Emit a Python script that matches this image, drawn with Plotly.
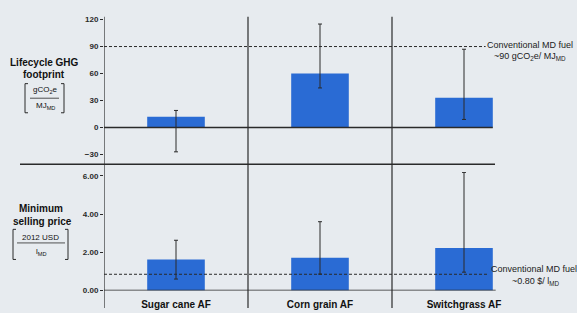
import plotly.graph_objects as go

# ---- data ----
categories = ["Sugar cane AF", "Corn grain AF", "Switchgrass AF"]
ghg = [12, 60, 33]              # gCO2e / MJ_MD
ghg_hi = [19, 115, 87]
ghg_lo = [-27, 44, 9]
msp = [1.62, 1.72, 2.23]        # 2012 USD / l_MD
msp_hi = [2.63, 3.6, 6.18]
msp_lo = [0.6, 0.86, 0.96]
conv_ghg = 90
conv_price = 0.85
ghg_ticks = [120, 90, 60, 30, 0, -30]
msp_ticks = [0, 2, 4, 6]

W, H = 577, 313
L, R = 104, 41
PW = W - L - R

def px(X):
    return (X - L) / PW

def py(Y):
    return (H - Y) / H

bar_color = "#2a6bd4"
ink = "#2a2a2a"
font = "Arial"

fig = go.Figure()
fig.add_trace(go.Bar(
    x=categories, y=ghg, xaxis="x2", yaxis="y", width=0.4,
    marker=dict(color=bar_color, line=dict(width=0)),
    error_y=dict(type="data", symmetric=False,
                 array=[h - v for h, v in zip(ghg_hi, ghg)],
                 arrayminus=[v - l for l, v in zip(ghg_lo, ghg)],
                 color=ink, thickness=1, width=2),
    showlegend=False))
fig.add_trace(go.Bar(
    x=categories, y=msp, xaxis="x", yaxis="y2", width=0.4,
    marker=dict(color=bar_color, line=dict(width=0)),
    error_y=dict(type="data", symmetric=False,
                 array=[h - v for h, v in zip(msp_hi, msp)],
                 arrayminus=[v - l for l, v in zip(msp_lo, msp)],
                 color=ink, thickness=1, width=2),
    showlegend=False))

tickfont = dict(family=font, size=8, color=ink, weight="bold")
fig.update_layout(
    width=W, height=H,
    margin=dict(l=L, r=R, t=0, b=0),
    paper_bgcolor="#e7ebef", plot_bgcolor="rgba(0,0,0,0)",
    bargap=0.6,
    xaxis=dict(domain=[0, 1], range=[-0.5, 2.5], anchor="y2",
               showgrid=False, zeroline=False, showline=False, ticks="",
               ticklabelstandoff=6,
               tickfont=dict(family=font, size=10, color="#111", weight="bold")),
    xaxis2=dict(domain=[0, 1], range=[-0.5, 2.5], anchor="y", matches="x",
                showgrid=False, zeroline=False, showline=False, showticklabels=False),
    yaxis=dict(domain=[py(155), py(16)], range=[-30, 120], tickvals=ghg_ticks,
               showgrid=False, zeroline=False, showline=False,
               ticks="outside", ticklen=3, tickcolor=ink, tickfont=tickfont),
    yaxis2=dict(domain=[py(295), py(173)], range=[0, 6.2], tickvals=msp_ticks,
                tickformat=".2f",
                showgrid=False, zeroline=False, showline=False,
                ticks="outside", ticklen=3, tickcolor=ink, tickfont=tickfont),
)

shapes = []
# full-height vertical dividers
for xv in [-0.5, 0.5, 1.5]:
    shapes.append(dict(type="line", xref="x", yref="paper", x0=xv, x1=xv,
                       y0=0, y1=py(13), line=dict(color=ink, width=1.2)))
# top panel zero line
shapes.append(dict(type="line", xref="x", yref="y", x0=-0.5, x1=2.2, y0=0, y1=0,
                   line=dict(color=ink, width=1.5)))
# separator between panels
shapes.append(dict(type="line", xref="paper", yref="paper", x0=px(20), x1=px(495),
                   y0=py(165), y1=py(165), line=dict(color=ink, width=1.3)))
# bottom axis line
shapes.append(dict(type="line", xref="x", yref="y2", x0=-0.5, x1=2.22, y0=0, y1=0,
                   line=dict(color=ink, width=1.5)))
# conventional fuel reference lines
shapes.append(dict(type="line", xref="x", yref="y", x0=-0.5, x1=2.15,
                   y0=conv_ghg, y1=conv_ghg, line=dict(color=ink, width=1, dash="3px,2px")))
shapes.append(dict(type="line", xref="x", yref="y2", x0=-0.5, x1=2.16,
                   y0=conv_price, y1=conv_price, line=dict(color=ink, width=1, dash="3px,2px")))

def bracket(x0, x1, y0, y1):
    a, b = px(x0), px(x1)
    t, bt = py(y0), py(y1)
    d = 3 / PW
    shapes.append(dict(type="path", xref="paper", yref="paper",
                       path=f"M {a+d},{t} L {a},{t} L {a},{bt} L {a+d},{bt}",
                       line=dict(color=ink, width=1)))
    shapes.append(dict(type="path", xref="paper", yref="paper",
                       path=f"M {b-d},{t} L {b},{t} L {b},{bt} L {b-d},{bt}",
                       line=dict(color=ink, width=1)))

bracket(25, 64, 82, 112)
shapes.append(dict(type="line", xref="paper", yref="paper", x0=px(30), x1=px(59),
                   y0=py(97), y1=py(97), line=dict(color=ink, width=0.8)))
bracket(13, 68, 232, 263)
shapes.append(dict(type="line", xref="paper", yref="paper", x0=px(17), x1=px(65),
                   y0=py(246), y1=py(246), line=dict(color=ink, width=0.8)))
fig.update_layout(shapes=shapes)

def ann(text, X, Y, size=9, bold=True, color="#111"):
    fig.add_annotation(text=text, xref="paper", yref="paper", x=px(X), y=py(Y),
                       xanchor="center", yanchor="middle", showarrow=False,
                       font=dict(family=font, size=size, color=color,
                                 weight="bold" if bold else "normal"))

ann("Lifecycle GHG", 44, 60, size=10)
ann("footprint", 44, 73, size=10)
ann("gCO<sub>2</sub>e", 45, 89, size=8, bold=False)
ann("MJ<sub>MD</sub>", 45, 105, size=8, bold=False)
ann("Minimum", 41, 211, size=10)
ann("selling price", 42, 224, size=10)
ann("2012 USD", 41, 240, size=8, bold=False)
ann("l<sub>MD</sub>", 41, 255, size=8, bold=False)
ann("Conventional MD fuel", 530, 42, size=9, bold=False, color="#222")
ann("~90 gCO<sub>2</sub>e/ MJ<sub>MD</sub>", 530, 54, size=9, bold=False, color="#222")
ann("Conventional MD fuel", 534, 273, size=9, bold=False, color="#222")
ann("~0.80 $/ l<sub>MD</sub>", 536, 286, size=9, bold=False, color="#222")

fig.write_html("out.html", config={"displayModeBar": False},
               post_script="document.body.style.margin='0';document.body.style.overflow='hidden';")
